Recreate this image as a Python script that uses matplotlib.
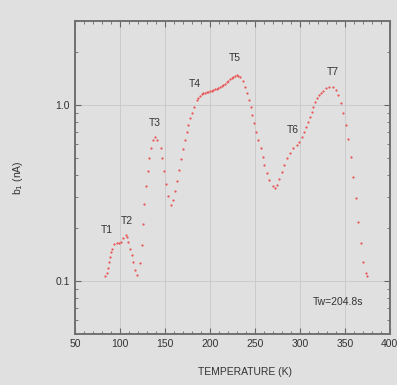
import numpy as np
import matplotlib
matplotlib.use("Agg")
from matplotlib import pyplot as plt
from matplotlib.ticker import FixedLocator, MultipleLocator, LogLocator, NullFormatter

# temperature (K) and b1 (nA)
temp = [83.5, 85.2, 87.0, 87.8, 88.9, 90.0, 91.4, 93.7, 96.3, 98.9, 101.1, 103.7,
        106.3, 108.1, 109.2, 111.1, 113.0, 114.8, 116.7, 118.6,
        122.2, 124.1, 125.2, 126.7, 128.9, 130.8, 132.6, 134.1, 137.0, 138.9, 140.8,
        145.2, 147.0, 148.9, 151.1, 153.3, 156.3, 159.2, 161.1, 163.7, 165.9, 167.8,
        170.3, 172.2, 174.1, 175.9, 177.8, 179.7, 182.2, 185.2, 187.0, 188.9, 190.8,
        192.6, 194.5, 196.3, 198.1, 200.0, 201.9, 203.7, 205.6, 207.4, 209.2, 211.0,
        213.0, 214.8, 216.6, 218.5, 220.3, 222.2, 224.0, 225.9, 227.8, 229.7, 231.5,
        233.3, 236.3, 238.9, 241.4, 243.3, 245.2, 247.0, 248.9, 251.1, 253.7, 256.3,
        258.6, 260.3, 263.0, 265.9, 269.7, 272.2, 274.8, 277.0, 279.7, 282.2, 285.2,
        288.9, 292.6, 296.3, 299.2, 301.9, 304.4, 306.7, 309.2, 311.1, 313.0, 314.8,
        316.7, 319.0, 321.1, 323.3, 325.9, 328.9, 332.6, 336.3, 339.7, 342.6, 345.6,
        348.1, 350.8, 353.7, 356.3, 359.2, 361.9, 364.8, 367.4, 370.3, 373.3, 374.8]
b1 = [0.107, 0.111, 0.118, 0.129, 0.137, 0.146, 0.153, 0.162, 0.164, 0.164, 0.167, 0.175,
      0.182, 0.177, 0.167, 0.153, 0.141, 0.129, 0.116, 0.108,
      0.126, 0.160, 0.211, 0.274, 0.347, 0.422, 0.500, 0.570, 0.633, 0.660, 0.633,
      0.572, 0.498, 0.422, 0.356, 0.304, 0.270, 0.289, 0.326, 0.371, 0.427, 0.491,
      0.560, 0.633, 0.705, 0.770, 0.840, 0.904, 0.978, 1.068, 1.100, 1.125, 1.150,
      1.166, 1.175, 1.180, 1.186, 1.195, 1.205, 1.217, 1.228, 1.240, 1.254, 1.268,
      1.283, 1.299, 1.320, 1.345, 1.374, 1.400, 1.425, 1.448, 1.468, 1.480, 1.470,
      1.448, 1.374, 1.270, 1.166, 1.068, 0.978, 0.877, 0.787, 0.705, 0.633, 0.567,
      0.508, 0.456, 0.409, 0.375, 0.347, 0.336, 0.351, 0.378, 0.418, 0.456, 0.498,
      0.536, 0.567, 0.593, 0.619, 0.660, 0.705, 0.753, 0.804, 0.858, 0.916, 0.978,
      1.044, 1.100, 1.140, 1.175, 1.206, 1.244, 1.270, 1.260, 1.217, 1.140, 1.023,
      0.897, 0.770, 0.638, 0.508, 0.391, 0.295, 0.217, 0.164, 0.129, 0.111, 0.107]

# peak labels
peak_names = ["T1", "T2", "T3", "T4", "T5", "T6", "T7"]
peak_x = [85.6, 107.8, 138.9, 183.3, 227.8, 292.2, 336.7]
peak_y = [0.195, 0.219, 0.79, 1.32, 1.85, 0.72, 1.54]

bg = "#e0e0e0"
ink = "#333333"

plt.rcParams["font.family"] = ["Liberation Sans", "DejaVu Sans"]

fig = plt.figure(figsize=(3.97, 3.85), dpi=100, facecolor=bg)
ax = fig.add_axes([0.189, 0.1325, 0.793, 0.8125], facecolor=bg)

ax.plot(temp, b1, linestyle="none", marker="o", markersize=1.6,
        color="#e85555", markeredgewidth=0)

ax.set_yscale("log")
ax.set_xlim(50, 400)
ax.set_ylim(0.05, 3.0)

ax.xaxis.set_major_locator(MultipleLocator(50))
ax.xaxis.set_minor_locator(MultipleLocator(10))
ax.yaxis.set_major_locator(FixedLocator([0.1, 1.0]))
ax.yaxis.set_minor_locator(LogLocator(base=10, subs=np.arange(2, 10)))
ax.yaxis.set_minor_formatter(NullFormatter())
ax.set_yticklabels(["0.1", "1.0"])

ax.tick_params(which="both", direction="in", top=True, right=True,
               colors="#666666", labelcolor=ink, labelsize=7.5)
ax.tick_params(which="major", length=4, width=0.8)
ax.tick_params(which="minor", length=2, width=0.6)
ax.grid(True, which="major", color="#c8c8c8", linewidth=0.6)

for s in ax.spines.values():
    s.set_color("#707070")
    s.set_linewidth(1.4)

for name, x, y in zip(peak_names, peak_x, peak_y):
    ax.text(x, y, name, fontsize=7.5, color=ink, ha="center", va="center")

ax.text(370, 0.076, "Tw=204.8s", fontsize=7.5, color=ink, ha="right", va="center")

ax.set_xlabel("TEMPERATURE (K)", fontsize=7.5, color=ink)
ax.xaxis.set_label_coords(0.54, -0.105)
ax.set_ylabel("b$_1$ (nA)", fontsize=7.5, color=ink)
ax.yaxis.set_label_coords(-0.16, 0.5)

fig.savefig("out.png", dpi=100, facecolor=bg)
